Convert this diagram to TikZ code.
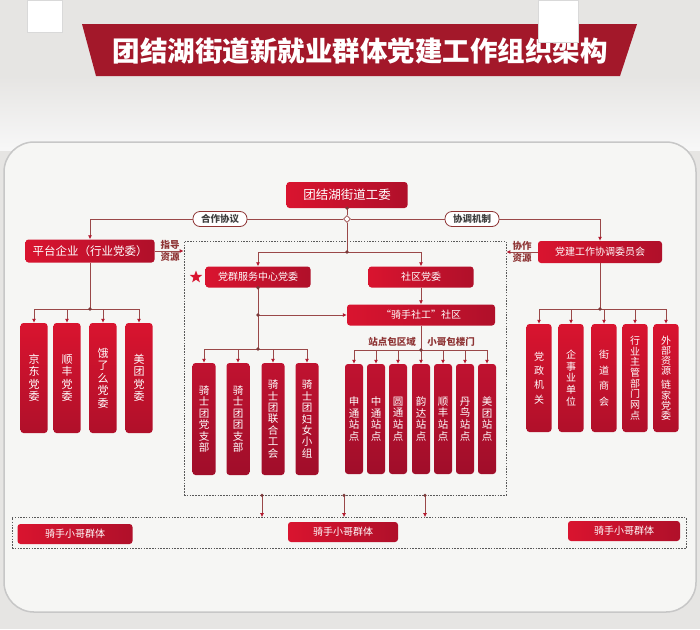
\documentclass[tikz,border=0pt]{standalone}
\usepackage{fontspec}
\newfontfamily\cjk{Noto Sans CJK SC}
\usetikzlibrary{arrows.meta,shapes.geometric,positioning,calc}

\definecolor{wall}{HTML}{E6E5E3}
\definecolor{board}{HTML}{F6F6F4}
\definecolor{banner}{HTML}{A3182A}
\definecolor{boxred}{HTML}{D9142F}
\definecolor{boxdark}{HTML}{B0102A}
\definecolor{crimson}{HTML}{C01230}
\definecolor{crimsondark}{HTML}{A00E2A}
\definecolor{linered}{HTML}{9A4848}
\definecolor{tipred}{HTML}{B3192E}
\definecolor{labelred}{HTML}{8E3434}

\tikzset{
  redbox/.style={rounded corners=3pt, left color=boxred, right color=boxdark, text=white, inner sep=0pt, font=\cjk\fontsize{10}{12}\selectfont},
  tallbox/.style={rounded corners=3pt, top color=boxred, bottom color=boxdark, text=white, inner sep=0pt, align=center},
  darkbox/.style={tallbox, top color=crimson, bottom color=crimsondark},
  pill/.style={rounded corners=7pt, draw=labelred, line width=0.8pt, fill=white, text=black!75, font=\cjk\bfseries\fontsize{9.5}{10}\selectfont, minimum height=15pt, inner xsep=8pt, inner ysep=0pt},
  conn/.style={draw=linered, line width=0.8pt},
  arr/.style={-{Latex[length=4pt,width=4pt,color=tipred]}},
  dashbox/.style={draw=black!65, dash pattern=on 1.5pt off 1.3pt, line width=0.7pt},
  tag/.style={text=labelred, font=\cjk\bfseries\fontsize{9.5}{11.5}\selectfont, align=center}
}

\begin{document}
\begin{tikzpicture}[x=1pt, y=-1pt]
\useasboundingbox (0,0) rectangle (700,629);
\fill[wall] (0,0) rectangle (700,629);
\shade[top color=wall, bottom color=black!3] (0,76) rectangle (700,150);
\fill[banner] (82,24) -- (637,24) -- (620,76) -- (96,76) -- cycle;
\node[font=\cjk\bfseries\fontsize{27.5}{29}\selectfont, text=white] (title) at (360,51) {团结湖街道新就业群体党建工作组织架构};
\draw[black!15, fill=white] (27,0) rectangle (62,32);
\draw[black!15, fill=white] (538,0) rectangle (578,42);
\draw[draw=black!22, line width=1.5pt, fill=board, rounded corners=30pt] (4,142) rectangle (696,612);

\node[dashbox, minimum width=322pt, minimum height=254pt] (inner) at (345,368) {};
\node[dashbox, minimum width=674pt, minimum height=31pt] (lower) at (349,533) {};

\node[redbox, minimum width=121pt, minimum height=26pt, font=\cjk\fontsize{12.5}{14}\selectfont] (top) at (347,195) {团结湖街道工委};
\node[diamond, draw=linered, fill=white, line width=0.8pt, inner sep=0pt, minimum size=7pt] (hub) at (347,219) {};
\node[pill] (hezuo) at (220,219) {合作协议};
\node[pill] (xietiao) at (472,219) {协调机制};

\node[redbox, minimum width=129pt, minimum height=23pt, font=\cjk\fontsize{11.5}{13}\selectfont] (pingtai) at (90,251) {平台企业（行业党委）};
\node[redbox, minimum width=124pt, minimum height=22pt] (dangjian) at (600,252) {党建工作协调委员会};
\node[tag] (zhidao) at (170,251) {指导\\资源};
\node[tag] (xiezuo) at (522,252) {协作\\资源};

\node[redbox, minimum width=105pt, minimum height=21pt] (qunfu) at (258,277) {党群服务中心党委};
\node[star, star points=5, star point ratio=2.4, fill=boxred, inner sep=0pt, minimum size=13pt] (star) at (196,277) {};
\node[redbox, minimum width=105pt, minimum height=21pt] (shequ) at (421,277) {社区党委};
\node[redbox, minimum width=148pt, minimum height=21pt] (sgbox) at (421,315) {“骑手社工”社区};
\node[tag] (zhandian) at (392,342) {站点包区域};
\node[tag] (xiaoge) at (451,342) {小哥包楼门};

\foreach \i/\x/\t in {1/34/{京\\东\\党\\委}, 2/67/{顺\\丰\\党\\委}, 3/103/{饿\\了\\么\\党\\委}, 4/139/{美\\团\\党\\委}}
  \node[tallbox, minimum width=27pt, minimum height=110pt, font=\cjk\fontsize{11}{12.5}\selectfont] (L\i) at (\x,378) {\t};
\foreach \i/\x/\t/\s in {1/539/{党\\政\\机\\关}/14.3, 2/571/{企\\事\\业\\单\\位}/11.7, 3/604/{街\\道\\商\\会}/15.5, 4/635/{行\\业\\主\\管\\部\\门\\网\\点}/10.7, 5/666/{外\\部\\资\\源\\[4pt]链\\家\\党\\委}/10.2}
  \node[tallbox, minimum width=25pt, minimum height=108pt, font=\cjk\fontsize{10}{\s}\selectfont] (R\i) at (\x,378) {\t};
\foreach \i/\x/\t in {1/204/{骑\\士\\团\\党\\支\\部}, 2/238/{骑\\士\\团\\团\\支\\部}, 3/273/{骑\\士\\团\\联\\合\\工\\会}, 4/307/{骑\\士\\团\\妇\\女\\小\\组}}
  \node[darkbox, minimum width=23pt, minimum height=112pt, font=\cjk\fontsize{10.5}{11.4}\selectfont] (Q\i) at (\x,419) {\t};
\foreach \i/\x/\t in {1/354/{申\\通\\站\\点}, 2/376/{中\\通\\站\\点}, 3/398/{圆\\通\\站\\点}, 4/421/{韵\\达\\站\\点}, 5/443/{顺\\丰\\站\\点}, 6/465/{丹\\鸟\\站\\点}, 7/487/{美\\团\\站\\点}}
  \node[darkbox, minimum width=18pt, minimum height=110pt, font=\cjk\fontsize{10.5}{11.7}\selectfont] (S\i) at (\x,419) {\t};

\node[redbox, minimum width=115pt, minimum height=20pt] (g1) at (75,534) {骑手小哥群体};
\node[redbox, minimum width=110pt, minimum height=20pt] (g2) at (343,532) {骑手小哥群体};
\node[redbox, minimum width=112pt, minimum height=20pt] (g3) at (624,531) {骑手小哥群体};

\coordinate (split) at (347,252);
\coordinate (qmid) at (258,315);
\coordinate (qbar) at (258,349);
\coordinate (sbar) at (421,350);
\coordinate (lbar) at (90,309);
\coordinate (rbar) at (600,309);

\draw[conn] (top.south) -- (hub.north);
\draw[conn] (hub.west) -- (hezuo.east);
\draw[conn] (hub.east) -- (xietiao.west);
\draw[conn,arr] (hezuo.west) -| (pingtai.north);
\draw[conn,arr] (xietiao.east) -| (dangjian.north);
\draw[conn] (hub.south) -- (split);
\draw[conn,arr] (split) -| (qunfu.north);
\draw[conn,arr] (split) -| (shequ.north);
\draw[conn,arr] (shequ.south) -- (sgbox.north);
\draw[conn] (qunfu.south) -- (qbar);
\draw[conn,arr] (qmid) -- (sgbox.west);
\draw[conn] (sgbox.south) -- (sbar);
\draw[conn] (pingtai.south) -- (lbar);
\draw[conn] (dangjian.south) -- (rbar);
\foreach \i in {1,...,4} \draw[conn,arr] (lbar) -| (L\i.north);
\foreach \i in {1,...,5} \draw[conn,arr] (rbar) -| (R\i.north);
\foreach \i in {1,...,4} \draw[conn,arr] (qbar) -| (Q\i.north);
\foreach \i in {1,...,7} \draw[conn,arr] (sbar) -| (S\i.north);
\draw[conn,arr] (pingtai.east) -- (pingtai.east -| inner.west);
\draw[conn,arr] (dangjian.west) -- (dangjian.west -| inner.east);
\foreach \x in {262,344,425} {
  \draw[conn,arr] (inner.south -| \x,0) -- (lower.north -| \x,0);
  \fill[linered!80!black] (inner.south -| \x,0) circle (1.8pt);
}
\foreach \c in {top.south,split,qunfu.south,qmid,qbar,sbar,lbar,rbar}
  \fill[linered!80!black] (\c) circle (1.8pt);
\end{tikzpicture}
\end{document}
